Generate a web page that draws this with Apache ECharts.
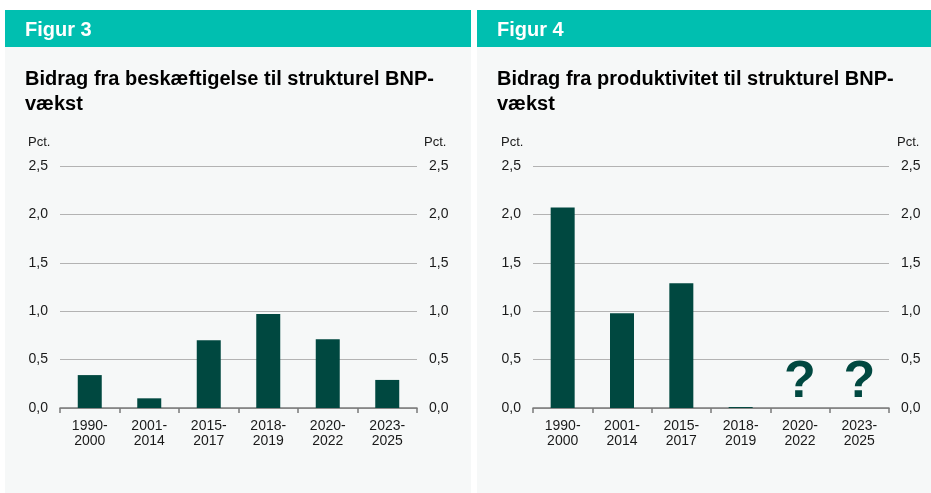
<!DOCTYPE html>
<html>
<head>
<meta charset="utf-8">
<script src="https://cdn.jsdelivr.net/npm/echarts@6/dist/echarts.min.js"></script>
<style>
html,body{margin:0;padding:0;background:#ffffff;}
#chart{width:931px;height:493px;}
</style>
</head>
<body>
<div id="chart"></div>
<script>
// ---- Data ----
const categories = ['1990-\n2000', '2001-\n2014', '2015-\n2017', '2018-\n2019', '2020-\n2022', '2023-\n2025'];
const employmentContribution = [0.34, 0.10, 0.70, 0.97, 0.71, 0.29];
const productivityContribution = [2.07, 0.98, 1.29, 0.01, null, null];
const unknownMarkers = [null, null, null, null, 0, 0]; // "?" placed on these categories
const figureHeaders = ['Figur 3', 'Figur 4'];
const chartTitles = ['Bidrag fra beskæftigelse til strukturel BNP-\nvækst', 'Bidrag fra produktivitet til strukturel BNP-\nvækst'];
const axisUnit = 'Pct.';
const yMin = 0, yMax = 2.5, yStep = 0.5;

// ---- Styles ----
const FONT = '"Liberation Sans", Arial, sans-serif';
const TEAL = '#00bfb0';
const PANEL = '#f6f8f8';
const BAR = '#004840';
const TEXT = '#1a1a1a';
const fmt = v => v.toFixed(1).replace('.', ',');

const grids = [
  {left: 60, right: 514, top: 166, bottom: 85},
  {left: 533, right: 42, top: 166, bottom: 85}
];

function xAxisFor(i) {
  return {
    type: 'category', gridIndex: i, data: categories, boundaryGap: true,
    axisLine: {lineStyle: {color: '#7a7a7a', width: 1.5}},
    axisTick: {show: true, length: 5, lineStyle: {color: '#7a7a7a', width: 1.5}},
    axisLabel: {color: TEXT, fontFamily: FONT, fontSize: 14, lineHeight: 15, margin: 11, interval: 0},
    splitLine: {show: false}
  };
}
function yAxisFor(i, pos) {
  return {
    type: 'value', gridIndex: i, position: pos, min: yMin, max: yMax, interval: yStep,
    axisLine: {show: false}, axisTick: {show: false},
    axisLabel: {color: TEXT, fontFamily: FONT, fontSize: 14, margin: 12, formatter: fmt},
    splitLine: {show: pos === 'left', lineStyle: {color: '#b3b3b3', width: 1}}
  };
}

const panels = [{x: 5, w: 466}, {x: 477, w: 454}];
const graphic = [];
panels.forEach(p => {
  graphic.push({type: 'rect', z: -10, silent: true, shape: {x: p.x, y: 10, width: p.w, height: 37}, style: {fill: TEAL}});
  graphic.push({type: 'rect', z: -10, silent: true, shape: {x: p.x, y: 47, width: p.w, height: 446}, style: {fill: PANEL}});
});

const titles = [];
[25, 497].forEach((x, i) => {
  titles.push({text: figureHeaders[i], left: x, top: 20, padding: 0, textStyle: {color: '#ffffff', fontFamily: FONT, fontSize: 20, fontWeight: 'bold'}});
  titles.push({text: chartTitles[i], left: x, top: 67, padding: 0, textStyle: {color: '#000000', fontFamily: FONT, fontSize: 20, fontWeight: 'bold', lineHeight: 25}});
});
[28, 424, 501, 897].forEach(x => {
  titles.push({text: axisUnit, left: x, top: 136, padding: 0, textStyle: {color: TEXT, fontFamily: FONT, fontSize: 13, fontWeight: 'normal'}});
});

const chart = echarts.init(document.getElementById('chart'), null, {renderer: 'canvas'});
chart.setOption({
  animation: false,
  backgroundColor: '#ffffff',
  graphic: graphic,
  title: titles,
  grid: grids,
  xAxis: [xAxisFor(0), xAxisFor(1)],
  yAxis: [yAxisFor(0, 'left'), yAxisFor(0, 'right'), yAxisFor(1, 'left'), yAxisFor(1, 'right')],
  series: [
    {type: 'bar', xAxisIndex: 0, yAxisIndex: 0, data: employmentContribution, barWidth: 24, itemStyle: {color: BAR}},
    {type: 'bar', xAxisIndex: 1, yAxisIndex: 2, data: productivityContribution, barWidth: 24, itemStyle: {color: BAR}},
    {type: 'scatter', xAxisIndex: 1, yAxisIndex: 2, data: unknownMarkers, symbolSize: 0, silent: true,
     itemStyle: {opacity: 1, color: BAR},
     label: {show: true, position: 'top', distance: -1, formatter: '?', color: BAR, opacity: 1, fontFamily: FONT, fontSize: 52, fontWeight: 'bold'}}
  ]
});
</script>
</body>
</html>
